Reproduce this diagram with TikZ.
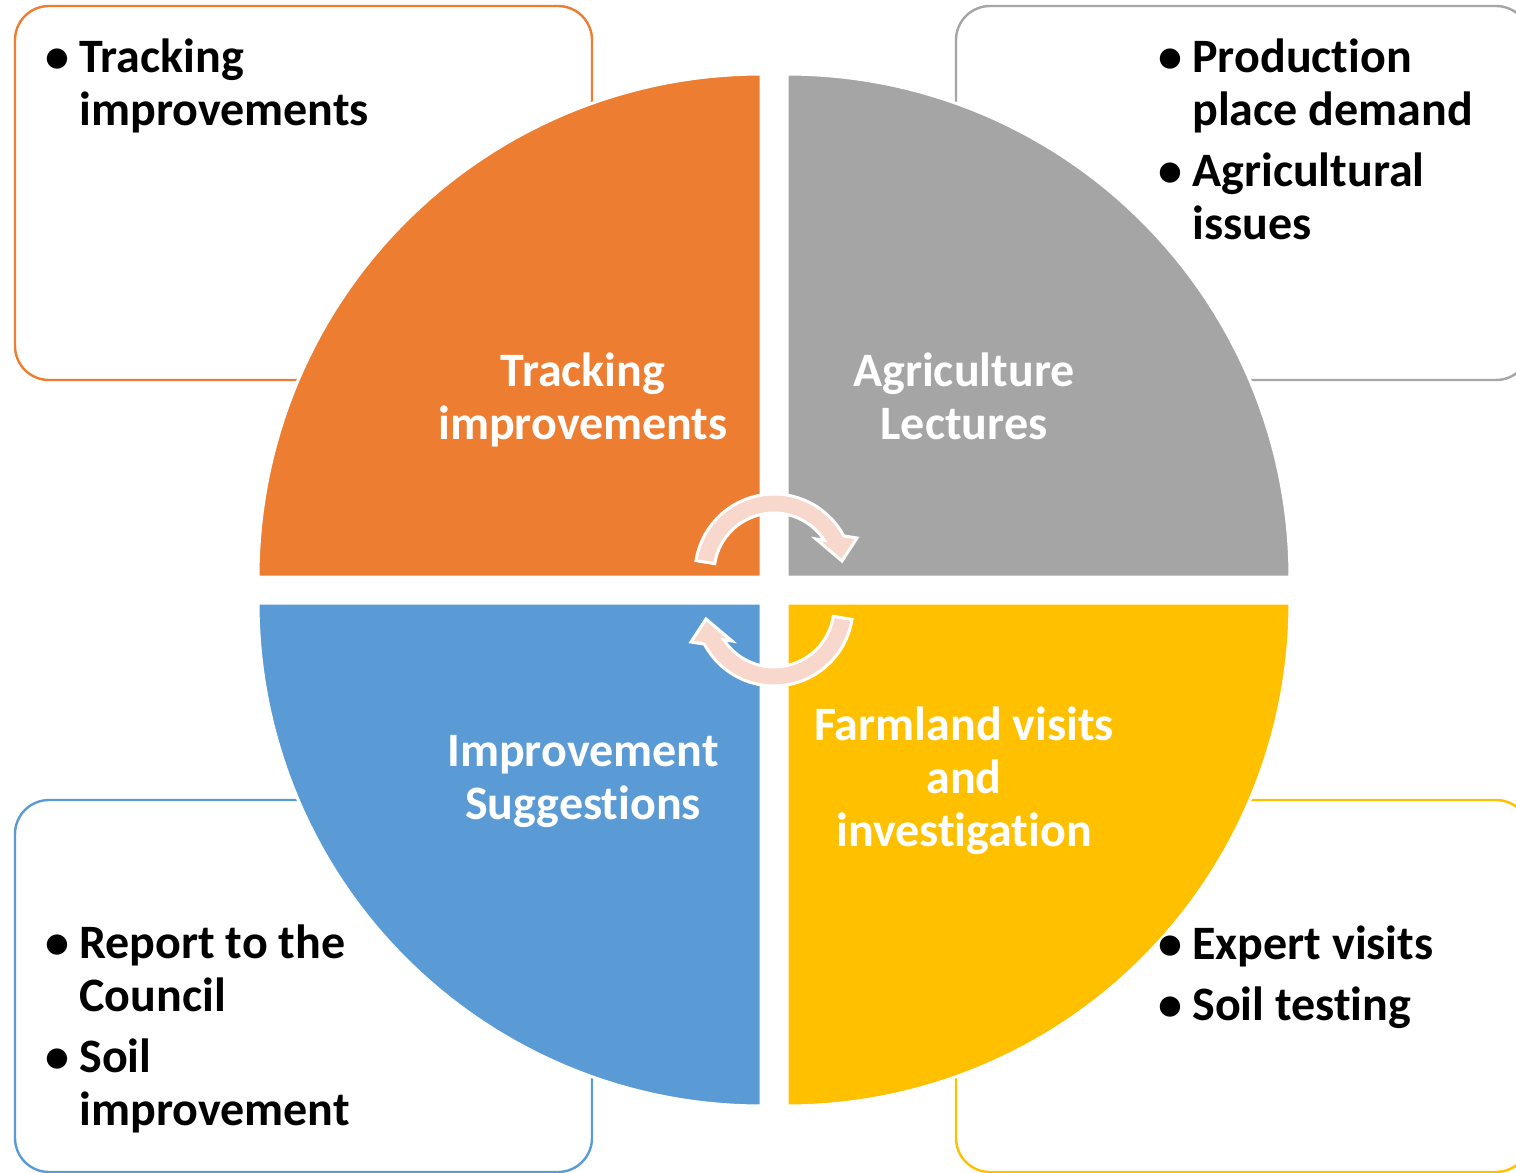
\documentclass[tikz,border=0pt]{standalone}
\usepackage{fontspec}
\setmainfont{Carlito}[Ligatures=NoCommon]
\usetikzlibrary{positioning}
\definecolor{qorange}{HTML}{ED7D31}
\definecolor{qgray}{HTML}{A5A5A5}
\definecolor{qblue}{HTML}{5B9BD5}
\definecolor{qyellow}{HTML}{FFC000}
\definecolor{cycpink}{HTML}{F8D7CD}
\newcommand{\bul}{\llap{\textbullet\hspace{5pt}}}

\begin{document}
\begin{tikzpicture}[
                          x=0.5pt, y=-0.5pt,
                          box/.style={draw, line width=1.2pt, fill=white, rounded corners=17pt},
                          quad/.style={draw=white, line width=1.5pt},
                          cyc/.style={fill=cycpink, draw=white, line width=1.5pt, line join=miter},
                          note/.style={anchor=base west, align=left, inner sep=0pt,
                                       font=\bfseries\fontsize{24}{26.5}\selectfont},
                          phase/.style={anchor=base, align=center, inner sep=0pt, text=white,
                                        font=\bfseries\fontsize{24}{26.5}\selectfont}]
                      \useasboundingbox (0,0) rectangle (1516,1173);
                      % side boxes
                      \draw[box, draw=qorange] (15,6) rectangle (592,380);
                      \draw[box, draw=qgray] (956,6) rectangle (1530,380);
                      \draw[box, draw=qblue] (15,800) rectangle (592,1172);
                      \draw[box, draw=qyellow] (956,800) rectangle (1530,1172);
                      % quarter disks
                      \path[quad, fill=qorange] (761,577) -- plot[domain=180:270, samples=60] ({761+503*cos(\x)}, {577+503*sin(\x)}) -- cycle;
                      \path[quad, fill=qgray] (787,577) -- plot[domain=270:360, samples=60] ({787+503*cos(\x)}, {577+503*sin(\x)}) -- cycle;
                      \path[quad, fill=qblue] (761,603) -- plot[domain=90:180, samples=60] ({761+503*cos(\x)}, {603+503*sin(\x)}) -- cycle;
                      \path[quad, fill=qyellow] (787,603) -- plot[domain=0:90, samples=60] ({787+503*cos(\x)}, {603+503*sin(\x)}) -- cycle;
                      % circular arrows
                      \foreach \a in {0,180}
                        \path[cyc, rotate around={\a:(774,590)}]
                          plot[domain=189:332, samples=30] ({774+79*cos(\x)}, {573+79*sin(\x)})
                          -- (857,538) -- (842,561) -- (816,539)
                          -- plot[domain=327:189, samples=30] ({774+60*cos(\x)}, {573+60*sin(\x)}) -- cycle;
                      % texts (base = last line)
                      \node[phase] (track) at (583,439) {Tracking\\ improvements};
                      \node[phase] (lect) at (964,439) {Agriculture\\ Lectures};
                      \node[phase] (sugg) at (583,819) {Improvement\\ Suggestions};
                      \node[phase] (visit) at (964,846) {Farmland visits\\ and\\ investigation};
                      \node[note] (tl) at (79,125) {\bul Tracking\\ improvements};
                      \node[note] (tr) at (1192,239) {\bul Production\\ place demand\\[4pt] \bul Agricultural\\ issues};
                      \node[note] (bl) at (79,1125) {\bul Report to the\\ Council\\[4pt] \bul Soil\\ improvement};
                      \node[note] (br) at (1192,1020) {\bul Expert visits\\[4pt] \bul Soil testing};
                  \end{tikzpicture}
\end{document}
